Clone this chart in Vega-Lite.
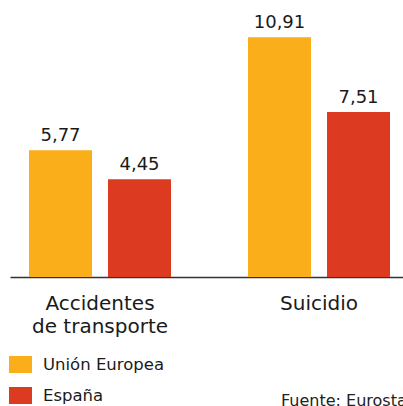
{
  "$schema": "https://vega.github.io/schema/vega-lite/v6.json",
  "width": 393,
  "height": 277,
  "autosize": {"type": "none"},
  "padding": {"left": 10, "top": 0, "right": 0, "bottom": 129},
  "background": "white",
  "config": {
    "view": {"stroke": null},
    "locale": {"number": {"decimal": ",", "thousands": ".", "grouping": [3], "currency": ["", " €"]}},
    "font": "DejaVu Sans"
  },
  "title": {
    "text": "Fuente: Eurostat",
    "orient": "bottom",
    "anchor": "start",
    "frame": "group",
    "baseline": "alphabetic",
    "dx": 271,
    "offset": 2,
    "font": "DejaVu Sans",
    "fontSize": 16,
    "fontWeight": "normal",
    "color": "#222222"
  },
  "data": {
    "values": [
      {"causa": "Accidentes de transporte", "zona": "Unión Europea", "valor": 5.77},
      {"causa": "Accidentes de transporte", "zona": "España", "valor": 4.45},
      {"causa": "Suicidio", "zona": "Unión Europea", "valor": 10.91},
      {"causa": "Suicidio", "zona": "España", "valor": 7.51}
    ]
  },
  "encoding": {
    "x": {
      "field": "causa",
      "type": "nominal",
      "sort": ["Accidentes de transporte", "Suicidio"],
      "scale": {"paddingInner": 0.3516, "paddingOuter": 0.073, "align": 0.594},
      "axis": {
        "title": null,
        "ticks": false,
        "domainColor": "#333333",
        "domainWidth": 1.5,
        "labelAngle": 0,
        "labelFont": "DejaVu Sans",
        "labelFontSize": 20,
        "labelColor": "#1a1a1a",
        "labelPadding": 16,
        "labelLineHeight": 23,
        "labelExpr": "datum.label == 'Accidentes de transporte' ? ['Accidentes', 'de transporte'] : datum.label"
      }
    },
    "xOffset": {
      "field": "zona",
      "type": "nominal",
      "sort": ["Unión Europea", "España"],
      "scale": {"paddingInner": 0.2025, "paddingOuter": 0}
    },
    "y": {
      "field": "valor",
      "type": "quantitative",
      "scale": {"domain": [0, 12.6]},
      "axis": null
    }
  },
  "layer": [
    {
      "mark": {"type": "bar"},
      "encoding": {
        "color": {
          "field": "zona",
          "type": "nominal",
          "sort": ["Unión Europea", "España"],
          "scale": {"domain": ["Unión Europea", "España"], "range": ["#FAAE19", "#DC3B22"]},
          "legend": {
            "title": null,
            "orient": "none",
            "legendX": -1,
            "legendY": 353,
            "padding": 0,
            "symbolType": "M-1,-0.739H1V0.739H-1Z",
            "symbolSize": 529,
            "symbolStrokeWidth": 0,
            "symbolOpacity": 1,
            "labelFont": "DejaVu Sans",
            "labelFontSize": 16.5,
            "labelColor": "#1a1a1a",
            "labelOffset": 11,
            "rowPadding": 11,
            "labelLimit": 300
          }
        }
      }
    },
    {
      "mark": {"type": "text", "baseline": "alphabetic", "dy": -9, "font": "DejaVu Sans", "fontSize": 18, "color": "#1a1a1a"},
      "encoding": {
        "text": {"field": "valor", "type": "quantitative", "format": ".2f"}
      }
    }
  ]
}
